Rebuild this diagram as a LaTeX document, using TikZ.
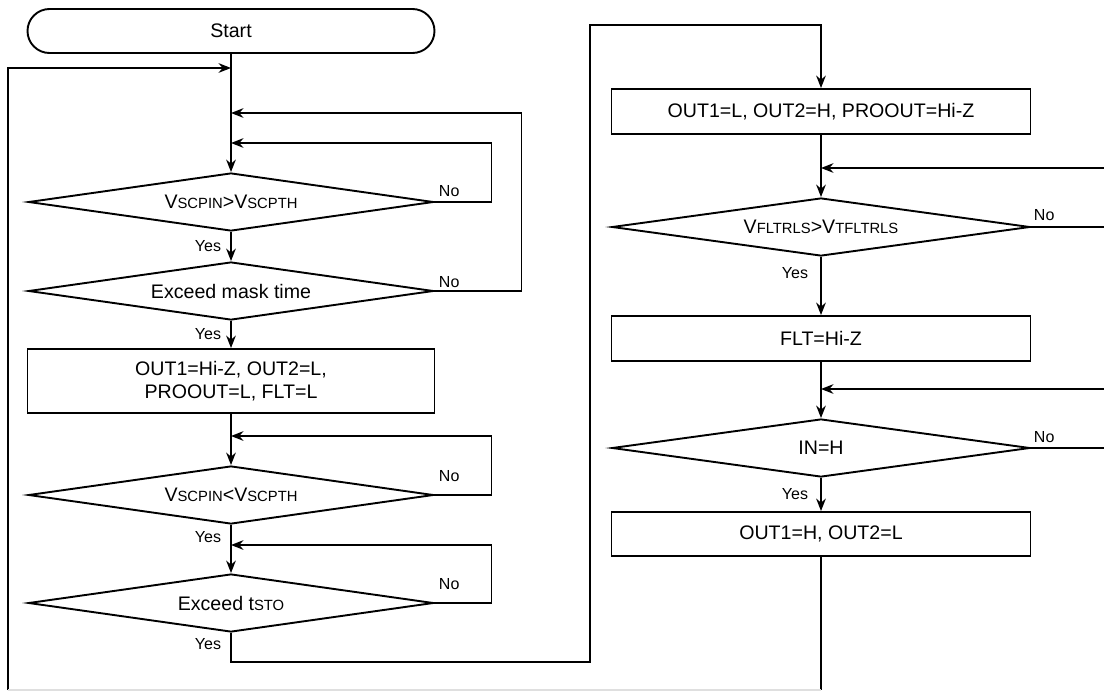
\documentclass[tikz,border=0pt]{standalone}
\usepackage{fontspec}
\setmainfont{Liberation Sans}
\usetikzlibrary{shapes.geometric}
\usetikzlibrary{arrows.meta}
\newcommand{\subtxt}[1]{{\fontsize{7.4}{9}\selectfont #1}}

\begin{document}
\begin{tikzpicture}[x=0.5pt,y=-0.5pt,
    font=\fontsize{9.8}{11.3}\selectfont,
    line width=0.95pt,
    term/.style={draw,rounded corners=11pt,minimum width=203.5pt,minimum height=22pt,inner sep=0pt},
    procbox/.style={draw,rectangle,minimum width=209.5pt,minimum height=22.5pt,align=center,inner sep=0pt},
    decision/.style={draw,diamond,aspect=7,minimum width=202.5pt,minimum height=29pt,inner sep=0pt},
    arr/.style={-{Stealth[length=6.2pt,width=4.8pt,inset=2pt]}},
    lbl/.style={font=\fontsize{8}{9}\selectfont,inner sep=0pt}]
    \useasboundingbox (0,0) rectangle (1104,691);

    % left column
    \node [term] (start) at (231,31) {Start};
    \node [decision] (cmp1) at (231,202) {V\subtxt{SCPIN}>V\subtxt{SCPTH}};
    \node [decision] (mask) at (231,291) {Exceed mask time};
    \node [procbox,minimum width=203.5pt,minimum height=32pt] (out1) at (231,381) {OUT1=Hi-Z, OUT2=L,\\PROOUT=L, FLT=L};
    \node [decision] (cmp2) at (231,495) {V\subtxt{SCPIN}<V\subtxt{SCPTH}};
    \node [decision] (tsto) at (231,603) {Exceed t\subtxt{STO}};

    % right column
    \node [procbox] (out2) at (821,111.5) {OUT1=L, OUT2=H, PROOUT=Hi-Z};
    \node [decision,minimum width=209pt] (rls) at (821,227) {V\subtxt{FLTRLS}>V\subtxt{TFLTRLS}};
    \node [procbox] (flt) at (821,338.5) {FLT=Hi-Z};
    \node [decision,minimum width=209pt] (inh) at (821,448) {IN=H};
    \node [procbox,minimum height=22pt] (out3) at (821,534) {OUT1=H, OUT2=L};

    \coordinate (jA) at (231,68);
    \coordinate (jB) at (231,113);
    \coordinate (jC) at (231,143);
    \coordinate (jD) at (231,436);
    \coordinate (jE) at (231,545);
    \coordinate (jF) at (821,168);
    \coordinate (jG) at (821,389);
    \coordinate (lpT) at (8,68);
    \coordinate (lpL) at (8,690);
    \coordinate (lpR) at (821,690);
    \coordinate (up) at (590,25);

    \draw [arr] (start) -- (cmp1);
    \draw [arr] (cmp1) -- (mask);
    \draw [arr] (mask) -- (out1);
    \draw [arr] (out1) -- (cmp2);
    \draw [arr] (cmp2) -- (tsto);
    \draw [arr] (tsto.south) -- ++(0,29) -| (up) -| (out2.north);
    \draw [arr] (out2) -- (rls);
    \draw [arr] (rls) -- (flt);
    \draw [arr] (flt) -- (inh);
    \draw [arr] (inh) -- (out3);

    % loops back
    \draw [arr] (cmp1.east) -- ++(57,0) |- (jC);
    \draw [arr] (mask.east) -- ++(87,0) |- (jB);
    \draw [arr] (cmp2.east) -- ++(57,0) |- (jD);
    \draw [arr] (tsto.east) -- ++(57,0) |- (jE);
    \draw [arr] (rls.east) -- ++(100,0) |- (jF);
    \draw [arr] (inh.east) -- ++(100,0) |- (jG);
    \draw [arr] (lpL) -- (lpT) -- (jA);
    \draw (out3) -- (lpR);
    \draw [gray!25] (lpL) -- (lpR);

    \node [lbl,anchor=east] (y1) at (222,246) {Yes};
    \node [lbl,anchor=east] (y2) at (222,334) {Yes};
    \node [lbl,anchor=east] (y3) at (222,537) {Yes};
    \node [lbl,anchor=east] (y4) at (222,644) {Yes};
    \node [lbl,anchor=east] (y5) at (809,273) {Yes};
    \node [lbl,anchor=east] (y6) at (809,494) {Yes};
    \node [lbl,anchor=west] (n1) at (438,191) {No};
    \node [lbl,anchor=west] (n2) at (438,282) {No};
    \node [lbl,anchor=west] (n3) at (438,476) {No};
    \node [lbl,anchor=west] (n4) at (438,584) {No};
    \node [lbl,anchor=west] (n5) at (1033,215) {No};
    \node [lbl,anchor=west] (n6) at (1033,437) {No};
\end{tikzpicture}
\end{document}
